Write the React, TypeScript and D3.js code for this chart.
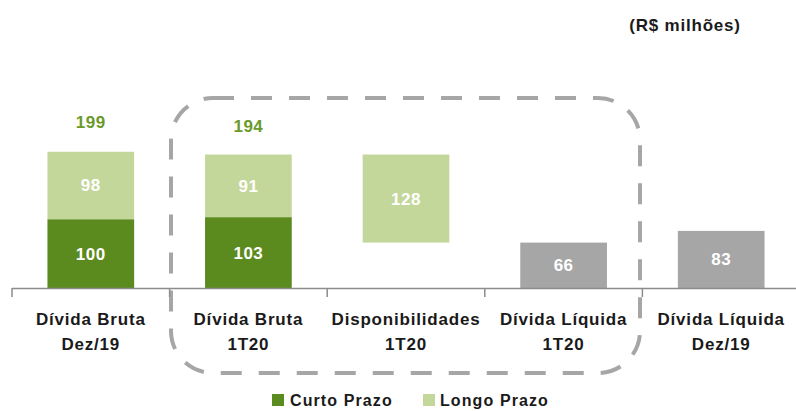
import React from "react";
import * as d3 from "d3";

const categories = [
  ["Dívida Bruta", "Dez/19"],
  ["Dívida Bruta", "1T20"],
  ["Disponibilidades", "1T20"],
  ["Dívida Líquida", "1T20"],
  ["Dívida Líquida", "Dez/19"],
];
const curtoPrazo = [100, 103, 0, 0, 0];
const longoPrazo = [98, 91, 128, 0, 0];
const longoBase = [100, 103, 66, 0, 0];
const liquida = [0, 0, 0, 66, 83];
const totals = [199, 194, null, null, null];
const unitLabel = "(R$ milhões)";
const legendItems = ["Curto Prazo", "Longo Prazo"];

const W = 796;
const H = 411;
const DARK = "#5B8A1E";
const LIGHT = "#C4D79B";
const GRAY = "#A6A6A6";
const TOTAL_COLOR = "#6A9A2A";
const FONT = "'Liberation Sans', Arial, sans-serif";

export default function App() {
  const x = d3.scaleBand<number>().domain(d3.range(categories.length)).range([12, 800]).padding(0);
  const y = d3.scaleLinear().domain([0, 250]).range([288, 116]);
  const bw = x.bandwidth() * 0.55;
  const bx = (i: number) => (x(i) as number) + (x.bandwidth() - bw) / 2;
  const cx = (i: number) => (x(i) as number) + x.bandwidth() / 2;

  const rects: any[] = [];
  const labels: any[] = [];
  categories.forEach((_, i) => {
    if (curtoPrazo[i] > 0) {
      rects.push(<rect key={`c${i}`} x={bx(i)} width={bw} y={y(curtoPrazo[i])} height={y(0) - y(curtoPrazo[i])} fill={DARK} />);
      labels.push(<text key={`tc${i}`} x={cx(i)} y={(y(curtoPrazo[i]) + y(0)) / 2} dy="0.35em">{curtoPrazo[i]}</text>);
    }
    if (longoPrazo[i] > 0) {
      const b = longoBase[i];
      const t = b + longoPrazo[i];
      rects.push(<rect key={`l${i}`} x={bx(i)} width={bw} y={y(t)} height={y(b) - y(t)} fill={LIGHT} />);
      labels.push(<text key={`tl${i}`} x={cx(i)} y={(y(t) + y(b)) / 2} dy="0.35em">{longoPrazo[i]}</text>);
    }
    if (liquida[i] > 0) {
      rects.push(<rect key={`g${i}`} x={bx(i)} width={bw} y={y(liquida[i])} height={y(0) - y(liquida[i])} fill={GRAY} />);
      labels.push(<text key={`tg${i}`} x={cx(i)} y={(y(liquida[i]) + y(0)) / 2} dy="0.35em">{liquida[i]}</text>);
    }
  });

  const ticks = d3.range(categories.length + 1).map((i) => (i < categories.length ? (x(i) as number) : 800));

  return (
    <svg width={W} height={H} style={{ position: "absolute", left: 0, top: 0 }} fontFamily={FONT}>
      <rect width={W} height={H} fill="#fff" />
      <text x={685} y={31} textAnchor="middle" fontWeight="bold" fontSize={17} letterSpacing={0.8} fill="#1a1a1a">{unitLabel}</text>
      <rect x={171} y={98} width={469} height={275} rx={42} ry={42} fill="none" stroke={GRAY} strokeWidth={4} strokeDasharray="21 17" />
      {rects}
      <g fill="#fff" fontWeight="bold" fontSize={17} letterSpacing={0.5} textAnchor="middle">{labels}</g>
      {totals.map((t, i) => t == null ? null : (
        <text key={`t${i}`} x={cx(i)} y={y(t) - 23} textAnchor="middle" fontWeight="bold" fontSize={17} letterSpacing={0.5} fill={TOTAL_COLOR}>{t}</text>
      ))}
      <line x1={12} x2={800} y1={288.5} y2={288.5} stroke="#8c8c8c" strokeWidth={1.5} />
      {ticks.map((tx, i) => (
        <line key={`k${i}`} x1={tx} x2={tx} y1={288} y2={297} stroke="#8c8c8c" strokeWidth={1.5} />
      ))}
      {categories.map((c, i) => (
        <text key={`n${i}`} x={cx(i)} textAnchor="middle" fontWeight="bold" fontSize={17} letterSpacing={0.8} fill="#1a1a1a">
          <tspan x={cx(i)} y={325}>{c[0]}</tspan>
          <tspan x={cx(i)} y={350}>{c[1]}</tspan>
        </text>
      ))}
      <g fontWeight="bold" fontSize={16} letterSpacing={1.1} fill="#1a1a1a">
        <rect x={272} y={394} width={12} height={12} fill={DARK} />
        <text x={290} y={406}>{legendItems[0]}</text>
        <rect x={423} y={394} width={12} height={12} fill={LIGHT} />
        <text x={440} y={406}>{legendItems[1]}</text>
      </g>
    </svg>
  );
}
